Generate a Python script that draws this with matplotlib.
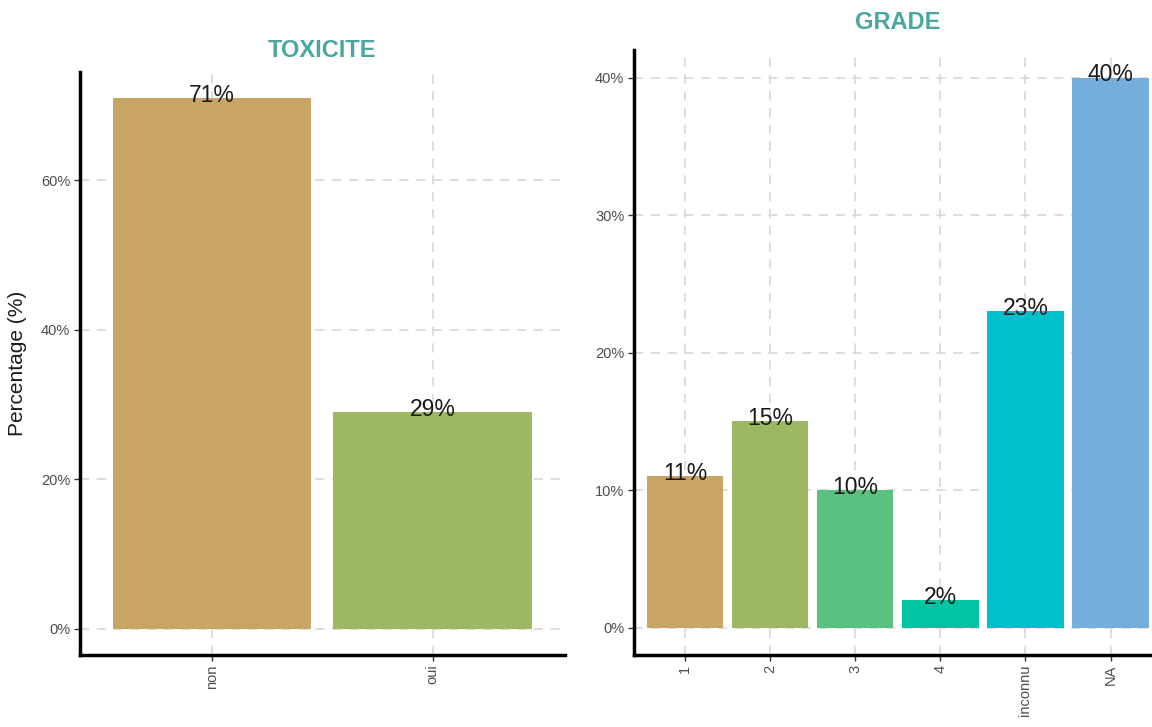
import matplotlib
matplotlib.use("Agg")
from matplotlib import pyplot as plt
import numpy as np

# donnees
tox_cats = ['non', 'oui']
tox_vals = [71, 29]
tox_colors = ['#C9A563', '#9DB862']

grade_cats = ['1', '2', '3', '4', 'inconnu', 'NA']
grade_vals = [11, 15, 10, 2, 23, 40]
grade_colors = ['#C9A563', '#9DB862', '#5AC280', '#00C4A2', '#00C0CB', '#75AEDD']

plt.rcParams['font.family'] = ['Liberation Sans', 'DejaVu Sans']

fig = plt.figure(figsize=(11.52, 7.27), dpi=100)
ax1 = fig.add_axes([0.0694, 0.099, 0.421, 0.802])
ax2 = fig.add_axes([0.5503, 0.099, 0.458, 0.832])


def style(ax, cats, vals, colors, title, yticks, ylim, xlim, tpad):
    x = np.arange(len(cats))
    ax.set_axisbelow(True)
    ax.grid(True, color='#D3D3D3', linestyle=(0, (6, 5)), linewidth=1.1)
    ax.bar(x, vals, width=0.9, color=colors, zorder=2)
    for xi, v in zip(x, vals):
        ax.annotate('%d%%' % v, (xi, v), xytext=(0, 2), textcoords='offset points',
                    ha='center', va='center', fontsize=16.5, color='#1A1A1A', zorder=3)
    ax.set_xticks(x)
    ax.set_xticklabels(cats, rotation=90, fontsize=10.5, color='#4D4D4D')
    ax.set_yticks(yticks)
    ax.set_yticklabels(['%d%%' % t for t in yticks], fontsize=10.5, color='#4D4D4D')
    ax.set_ylim(ylim)
    ax.set_xlim(xlim)
    for s in ['top', 'right']:
        ax.spines[s].set_visible(False)
    for s in ['left', 'bottom']:
        ax.spines[s].set_linewidth(2.5)
        ax.spines[s].set_color('black')
    ax.tick_params(length=4, width=1, color='#333333', pad=3)
    ax.set_title(title, fontsize=17, fontweight='bold', color='#4AA6A0', pad=tpad)


style(ax1, tox_cats, tox_vals, tox_colors, 'TOXICITE', [0, 20, 40, 60], (-3.5, 74.5), (-0.6, 1.6), 11)
style(ax2, grade_cats, grade_vals, grade_colors, 'GRADE', [0, 10, 20, 30, 40], (-2.0, 42.0), (-0.6, 5.6), 15)
ax1.set_ylabel('Percentage (%)', fontsize=15, color='#1A1A1A', labelpad=10)

fig.savefig('out.png', dpi=100)
